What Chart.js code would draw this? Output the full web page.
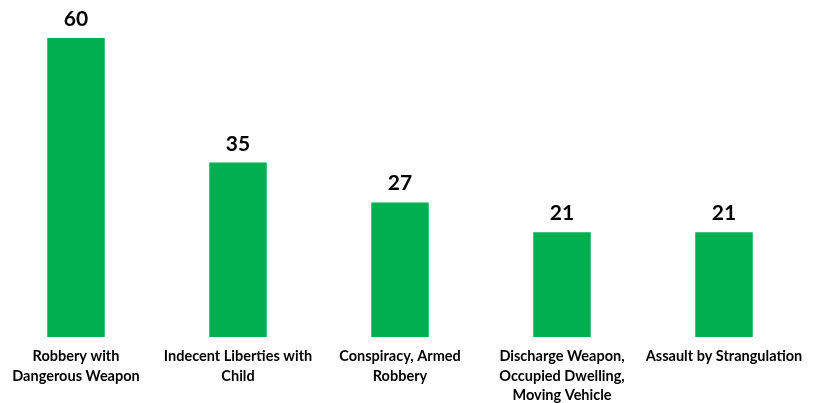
<!DOCTYPE html>
<html>
<head>
<meta charset="utf-8">
<script src="https://cdn.jsdelivr.net/npm/chart.js@4/dist/chart.umd.min.js"></script>
<style>
html,body{margin:0;padding:0;background:#fff;width:819px;height:403px;overflow:hidden;}
#wrap{position:absolute;left:-5px;top:0;width:810px;height:403px;}
</style>
</head>
<body>
<div id="wrap"><canvas id="c"></canvas></div>
<script>
const categories = [
  ["Robbery with", "Dangerous Weapon"],
  ["Indecent Liberties with", "Child"],
  ["Conspiracy, Armed", "Robbery"],
  ["Discharge Weapon,", "Occupied Dwelling,", "Moving Vehicle"],
  ["Assault by Strangulation"]
];
const values = [60, 35, 27, 21, 21];

const valueLabels = {
  id: 'valueLabels',
  afterDatasetsDraw(chart) {
    const ctx = chart.ctx;
    const meta = chart.getDatasetMeta(0);
    ctx.save();
    ctx.font = 'bold 21px Lato, "Open Sans", sans-serif';
    ctx.fillStyle = '#000';
    ctx.textAlign = 'center';
    ctx.textBaseline = 'alphabetic';
    meta.data.forEach((bar, i) => {
      ctx.fillText(String(values[i]), bar.x, bar.y - 12);
    });
    ctx.restore();
  }
};

new Chart(document.getElementById('c'), {
  type: 'bar',
  data: {
    labels: categories,
    datasets: [{
      data: values,
      backgroundColor: '#00B050',
      borderWidth: 0,
      barPercentage: 0.355,
      categoryPercentage: 1
    }]
  },
  options: {
    responsive: true,
    maintainAspectRatio: false,
    animation: false,
    layout: { padding: { top: 38, left: 0, right: 0, bottom: 0 } },
    plugins: { legend: { display: false }, tooltip: { enabled: false } },
    scales: {
      y: { display: false, min: 0, max: 60 },
      x: {
        grid: { display: false, drawBorder: false },
        border: { display: false },
        ticks: {
          color: '#000',
          maxRotation: 0,
          autoSkip: false,
          padding: 2,
          font: { family: 'Lato, "Open Sans", sans-serif', weight: 'bold', size: 14.5, lineHeight: 1.345 }
        },
        afterFit(scale) { scale.height = 66; }
      }
    }
  },
  plugins: [valueLabels]
});
</script>
</body>
</html>
